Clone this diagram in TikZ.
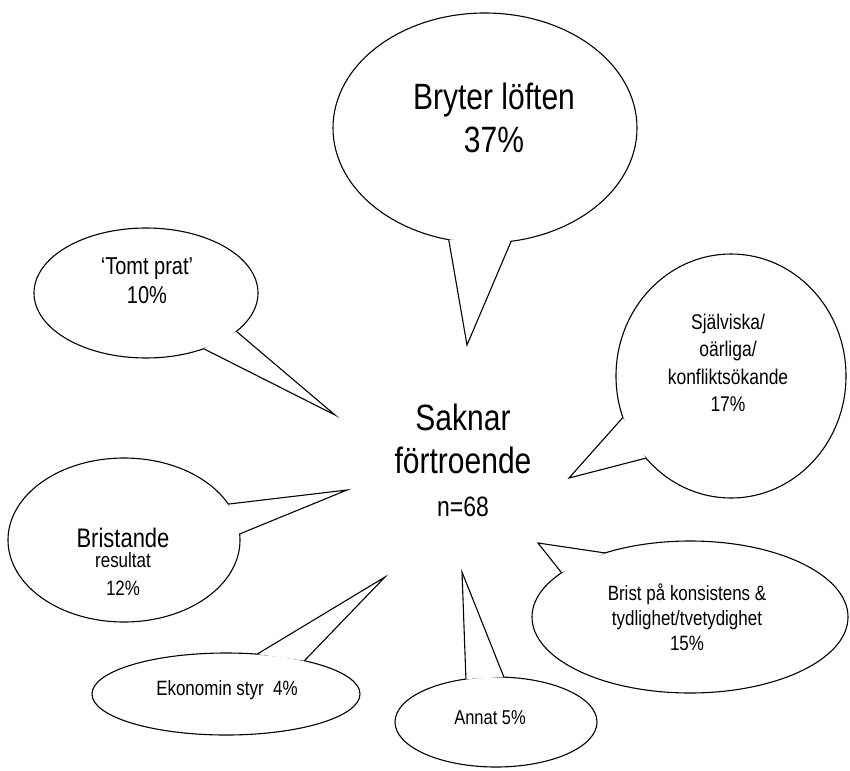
\documentclass[tikz,border=0pt]{standalone}
\usepackage{fontspec}
\setmainfont{Liberation Sans}[FakeStretch=0.82]
\usetikzlibrary{shapes.geometric}

\begin{document}
\begin{tikzpicture}[x=1pt,y=-1pt,
    bubble/.style={draw,fill=white,ellipse,line width=1.1pt,inner sep=0pt,outer sep=0pt},
    tail/.style={draw,fill=white,line width=1.1pt,line join=miter},
    lbl/.style={align=center,inner sep=0pt}]
  \useasboundingbox (0,0) rectangle (850,770);
  % bubbles
  \node[bubble,minimum width=304pt,minimum height=230pt] (bryter) at (485,128) {};
  \node[bubble,minimum width=224pt,minimum height=130pt] (tomt) at (146,293) {};
  \node[bubble,minimum width=230pt,minimum height=244pt] (sjalv) at (731,376) {};
  \node[bubble,minimum width=232pt,minimum height=164pt] (brist) at (124,540) {};
  \node[bubble,minimum width=268pt,minimum height=82pt] (ekon) at (226,694) {};
  \node[bubble,minimum width=202pt,minimum height=90pt] (annat) at (496,722) {};
  \node[bubble,minimum width=316pt,minimum height=152pt] (konsist) at (690,617) {};
  % tips
  \coordinate (bryter tip) at (467,345);
  \coordinate (tomt tip) at (335,415);
  \coordinate (sjalv tip) at (569,478);
  \coordinate (brist tip) at (347,490);
  \coordinate (ekon tip) at (385,577);
  \coordinate (annat tip) at (462,572);
  \coordinate (konsist tip) at (538,543);
  \draw[tail] (bryter.252.5) -- (bryter tip) -- (bryter.283.2);
  \draw[tail] (tomt.337.3) -- (tomt tip) -- (tomt.316.5);
  \draw[tail] (sjalv.201.3) -- (sjalv tip) -- (sjalv.224.3);
  \draw[tail] (brist.19.8) -- (brist tip) -- (brist.3.9);
  \draw[tail] (ekon.52.9) -- (ekon tip) -- (ekon.23.2);
  \draw[tail] (annat.125.2) -- (annat tip) -- (annat.80.1);
  \draw[tail] (konsist.143.7) -- (konsist tip) -- (konsist.161.3);
  % texts
  \node[lbl,font=\fontsize{36.6}{43}\selectfont] (saknar) at (463,460)
    {Saknar\\förtroende\\{\fontsize{28}{43}\selectfont n=68}};
  \node[lbl,font=\fontsize{36.6}{43}\selectfont] (bryter lbl) at (494,118) {Bryter löften\\37\%};
  \node[lbl,font=\fontsize{24.4}{29}\selectfont] (tomt lbl) at (147,281) {‘Tomt prat’\\10\%};
  \node[lbl,font=\fontsize{21.3}{27.5}\selectfont] (sjalv lbl) at (728,363)
    {Själviska/\\oärliga/\\konfliktsökande\\17\%};
  \node[lbl,font=\fontsize{20.7}{28}\selectfont] (brist lbl) at (123,562)
    {{\fontsize{26.8}{28}\selectfont Bristande}\\[-8pt]resultat\\12\%};
  \node[lbl,font=\fontsize{20.7}{20}\selectfont] (ekon lbl) at (227,690) {Ekonomin styr\ \ 4\%};
  \node[lbl,font=\fontsize{20.1}{20}\selectfont] (annat lbl) at (490,718) {Annat 5\%};
  \node[lbl,font=\fontsize{20.7}{25}\selectfont] (konsist lbl) at (687,617)
    {Brist på konsistens \&\\tydlighet/tvetydighet\\15\%};
\end{tikzpicture}
\end{document}
